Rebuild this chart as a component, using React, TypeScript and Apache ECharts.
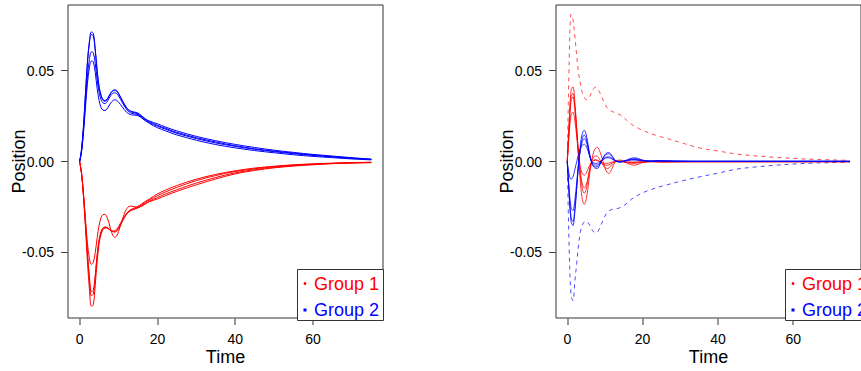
import React, { useEffect, useRef } from "react";
import * as echarts from "echarts";

// ---------- Left panel ----------
const timeLeft = [
  0, 0.5, 1, 1.5, 2, 2.5, 3, 3.5, 4, 4.5,
  5, 5.5, 6, 6.5, 7, 7.5, 8, 8.5, 9, 9.5,
  10, 11, 12, 13, 14, 15, 16, 17, 18,
  20, 22, 25, 30, 35, 40, 45, 50, 55, 60, 65, 70, 75,
];

const leftBlue1 = [
  0, 0.007, 0.020, 0.038, 0.055, 0.066, 0.0712, 0.0705, 0.062, 0.050,
  0.041, 0.0365, 0.034, 0.0335, 0.0342, 0.036, 0.0378, 0.039, 0.0395, 0.039,
  0.0375, 0.0335, 0.0298, 0.0278, 0.0272, 0.0266, 0.025, 0.0233, 0.0222,
  0.0207, 0.019, 0.0168, 0.0138, 0.0114, 0.0094, 0.0077, 0.0062, 0.005, 0.0039, 0.003, 0.0021, 0.0013,
];
const leftBlue2 = [
  0, 0.007, 0.0195, 0.037, 0.054, 0.065, 0.0697, 0.069, 0.061, 0.0495,
  0.0408, 0.0362, 0.0337, 0.0331, 0.0338, 0.0356, 0.0374, 0.0386, 0.039, 0.0386,
  0.0372, 0.0332, 0.0295, 0.0275, 0.0268, 0.0262, 0.0246, 0.023, 0.0218,
  0.0199, 0.0183, 0.016, 0.0131, 0.0107, 0.0087, 0.007, 0.0057, 0.0046, 0.0036, 0.0027, 0.0019, 0.0012,
];
const leftBlue3 = [
  0, 0.006, 0.018, 0.033, 0.047, 0.056, 0.0602, 0.0598, 0.054, 0.045,
  0.038, 0.034, 0.0322, 0.0318, 0.0327, 0.0345, 0.0362, 0.0374, 0.0378, 0.0374,
  0.036, 0.0323, 0.0288, 0.0268, 0.0262, 0.0257, 0.0242, 0.0226, 0.0213,
  0.0194, 0.0178, 0.0155, 0.0126, 0.0102, 0.0083, 0.0067, 0.0054, 0.0043, 0.0033, 0.0025, 0.0017, 0.0011,
];
const leftBlue4 = [
  0, 0.0055, 0.016, 0.030, 0.043, 0.0515, 0.0552, 0.0548, 0.049, 0.040,
  0.0335, 0.0297, 0.0282, 0.028, 0.0288, 0.0305, 0.0322, 0.0334, 0.0339, 0.0336,
  0.0326, 0.0299, 0.0272, 0.0258, 0.0255, 0.0252, 0.0238, 0.0222, 0.0208,
  0.0186, 0.0169, 0.0146, 0.0117, 0.0093, 0.0075, 0.006, 0.0048, 0.0037, 0.0028, 0.0021, 0.0014, 0.0009,
];
const leftRed1 = [
  0, -0.007, -0.020, -0.037, -0.055, -0.070, -0.0795, -0.0788, -0.068, -0.055,
  -0.045, -0.040, -0.0375, -0.0366, -0.0365, -0.0372, -0.038, -0.0386, -0.0388, -0.0384,
  -0.037, -0.0328, -0.0292, -0.0272, -0.0262, -0.0252, -0.0238, -0.0222, -0.021,
  -0.0188, -0.0168, -0.0142, -0.0105, -0.0077, -0.0055, -0.004, -0.0028, -0.002, -0.0014, -0.001, -0.0007, -0.0005,
];
const leftRed2 = [
  0, -0.007, -0.019, -0.034, -0.051, -0.065, -0.0738, -0.073, -0.064, -0.052,
  -0.0435, -0.039, -0.0368, -0.0362, -0.0363, -0.0371, -0.0379, -0.0384, -0.0384, -0.0378,
  -0.0365, -0.0325, -0.0288, -0.0266, -0.0256, -0.0246, -0.0232, -0.0218, -0.0205,
  -0.0178, -0.0158, -0.0132, -0.0097, -0.0071, -0.0051, -0.0036, -0.0026, -0.0018, -0.0013, -0.0009, -0.0006, -0.0004,
];
const leftRed3 = [
  0, -0.007, -0.019, -0.034, -0.05, -0.063, -0.0715, -0.0708, -0.0625, -0.051,
  -0.0428, -0.0385, -0.0365, -0.036, -0.0362, -0.037, -0.0378, -0.0382, -0.038, -0.0372,
  -0.0358, -0.032, -0.0287, -0.0268, -0.0262, -0.0255, -0.0243, -0.0229, -0.0217,
  -0.0198, -0.0179, -0.0155, -0.0118, -0.0088, -0.0062, -0.0045, -0.0032, -0.0023, -0.0016, -0.0011, -0.0008, -0.0006,
];
const leftRed4 = [
  0, -0.0065, -0.018, -0.032, -0.045, -0.053, -0.0565, -0.0555, -0.05, -0.042,
  -0.035, -0.0308, -0.0292, -0.029, -0.0305, -0.0335, -0.0375, -0.0405, -0.0416, -0.041,
  -0.0385, -0.0318, -0.0263, -0.0245, -0.0248, -0.0252, -0.0245, -0.0232, -0.022,
  -0.0206, -0.0188, -0.0164, -0.0128, -0.0096, -0.0068, -0.0049, -0.0035, -0.0025, -0.0018, -0.0012, -0.0008, -0.0006,
];

// ---------- Right panel ----------
const timeRight = [
  0, 0.5, 1, 1.5, 2, 2.5, 3, 3.5, 4, 4.5,
  5, 5.5, 6, 6.5, 7, 7.5, 8, 8.5, 9, 9.5,
  10, 10.5, 11, 11.5, 12, 12.5, 13,
  14, 15, 16, 17, 18, 19, 20,
  22, 24, 26,
  30, 35, 40, 45, 50, 55, 60, 65, 70, 75,
];

const rightRedEnvelope = [
  0, 0.055, 0.081, 0.078, 0.069, 0.058, 0.0488, 0.0425, 0.0378, 0.0352,
  0.034, 0.0342, 0.0358, 0.0382, 0.0401, 0.0408, 0.0402, 0.0385, 0.0362, 0.0338,
  0.0316, 0.0298, 0.0286, 0.0279, 0.0274, 0.027, 0.0266,
  0.0257, 0.0241, 0.0222, 0.0205, 0.0192, 0.0181, 0.0171,
  0.0155, 0.0141, 0.0129,
  0.0105, 0.0075, 0.0058, 0.0041, 0.0031, 0.0023, 0.0017, 0.0012, 0.0009, 0.0006,
];
const rightBlueEnvelope = [
  0, -0.048, -0.0735, -0.0765, -0.066, -0.056, -0.0455, -0.0385, -0.0348, -0.0332,
  -0.0327, -0.0335, -0.0352, -0.0372, -0.0387, -0.0393, -0.0388, -0.0372, -0.0348, -0.0322,
  -0.03, -0.0283, -0.0272, -0.0266, -0.0263, -0.0261, -0.026,
  -0.0254, -0.0243, -0.0226, -0.0208, -0.0194, -0.0182, -0.0172,
  -0.0156, -0.0142, -0.0131,
  -0.0109, -0.0085, -0.0064, -0.0042, -0.003, -0.0021, -0.0014, -0.0009, -0.0006, -0.0003,
];
const rightRed1 = [
  0, 0.022, 0.039, 0.041, 0.033, 0.018, 0.002, -0.012, -0.021, -0.0235,
  -0.021, -0.0145, -0.006, 0.0008, 0.0052, 0.0073, 0.0077, 0.0062, 0.0035, 0,
  -0.0035, -0.0058, -0.0066, -0.0055, -0.0032, -0.001, 0.0004,
  0.0008, 0.0002, -0.001, -0.0018, -0.002, -0.0014, -0.0006,
  0.0001, -0.0002, -0.0003,
  -0.0002, -0.0001, -0.0001, -0.0001, -0.0001, -0.0001, -0.0001, -0.0001, -0.0001, -0.0001,
];
const rightRed2 = [
  0, 0.02, 0.0355, 0.0375, 0.03, 0.017, 0.003, -0.008, -0.015, -0.0175,
  -0.0155, -0.01, -0.004, 0.0005, 0.0025, 0.003, 0.0028, 0.0015, -0.0003, -0.002,
  -0.0033, -0.0038, -0.0036, -0.0026, -0.0014, -0.0004, 0.0002,
  0.0003, -0.0002, -0.0007, -0.001, -0.001, -0.0007, -0.0004,
  -0.0001, -0.0002, -0.0002,
  -0.0001, -0.0001, -0.0001, -0.0001, -0.0001, -0.0001, -0.0001, -0.0001, -0.0001, -0.0001,
];
const rightRed3 = [
  0, 0.019, 0.0335, 0.0355, 0.029, 0.017, 0.004, -0.0065, -0.0125, -0.0145,
  -0.013, -0.0088, -0.0038, -0.0005, 0.0008, 0.001, 0.0008, 0.0001, -0.0008, -0.0015,
  -0.002, -0.0021, -0.0019, -0.0013, -0.0007, -0.0002, 0,
  0, -0.0003, -0.0005, -0.0006, -0.0005, -0.0003, -0.0002,
  -0.0001, -0.0001, -0.0001,
  -0.0001, -0.0001, -0.0001, -0.0001, -0.0001, -0.0001, -0.0001, -0.0001, -0.0001, -0.0001,
];
const rightRed4 = [
  0, 0.015, 0.0255, 0.0272, 0.0225, 0.0135, 0.004, -0.0035, -0.0068, -0.0075,
  -0.0065, -0.0042, -0.0018, -0.0002, 0.0005, 0.0006, 0.0004, 0, -0.0004, -0.0008,
  -0.001, -0.001, -0.0009, -0.0006, -0.0003, -0.0001, 0,
  0, -0.0001, -0.0002, -0.0003, -0.0003, -0.0002, -0.0001,
  -0.0001, -0.0001, -0.0001,
  -0.0001, -0.0001, -0.0001, -0.0001, -0.0001, -0.0001, -0.0001, -0.0001, -0.0001, -0.0001,
];
const rightBlue1 = [
  0, -0.019, -0.033, -0.0352, -0.028, -0.015, -0.001, 0.0095, 0.0155, 0.0172,
  0.015, 0.0095, 0.0035, -0.0008, -0.003, -0.0037, -0.0038, -0.0025, -0.0002, 0.002,
  0.0038, 0.0047, 0.0049, 0.0042, 0.0028, 0.0012, 0.0001,
  -0.0004, 0.0001, 0.001, 0.0018, 0.002, 0.0015, 0.0008,
  0.0002, 0.0005, 0.0004,
  0.0002, 0.0001, 0.0001, 0.0001, 0.0001, 0.0001, 0.0001, 0.0001, 0.0001, 0.0001,
];
const rightBlue2 = [
  0, -0.018, -0.031, -0.033, -0.026, -0.014, -0.0015, 0.0075, 0.0128, 0.0145,
  0.0128, 0.0082, 0.003, -0.0006, -0.0024, -0.003, -0.003, -0.0019, 0, 0.0018,
  0.0033, 0.004, 0.0042, 0.0036, 0.0024, 0.001, 0.0002,
  -0.0002, 0.0002, 0.0008, 0.0013, 0.0015, 0.0011, 0.0006,
  0.0002, 0.0004, 0.0003,
  0.0002, 0.0001, 0.0001, 0.0001, 0.0001, 0.0001, 0.0001, 0.0001, 0.0001, 0.0001,
];
const rightBlue3 = [
  0, -0.015, -0.0255, -0.027, -0.0215, -0.0115, -0.001, 0.0065, 0.011, 0.0126,
  0.0112, 0.0073, 0.0028, -0.0002, -0.0015, -0.002, -0.002, -0.0012, 0.0001, 0.0012,
  0.0021, 0.0025, 0.0026, 0.0022, 0.0015, 0.0007, 0.0002,
  -0.0001, 0.0002, 0.0006, 0.001, 0.0011, 0.0008, 0.0005,
  0.0002, 0.0003, 0.0002,
  0.0001, 0.0001, 0.0001, 0.0001, 0.0001, 0.0001, 0.0001, 0.0001, 0.0001, 0.0001,
];
const rightBlue4 = [
  0, -0.0075, -0.0098, -0.0085, -0.0045, 0, 0.004, 0.0072, 0.009, 0.0095,
  0.0085, 0.0058, 0.0025, 0, -0.0008, -0.001, -0.001, -0.0005, 0.0003, 0.001,
  0.0017, 0.002, 0.002, 0.0017, 0.0012, 0.0006, 0.0002,
  0, 0.0002, 0.0005, 0.0008, 0.0008, 0.0006, 0.0004,
  0.0002, 0.0002, 0.0002,
  0.0001, 0.0001, 0.0001, 0.0001, 0.0001, 0.0001, 0.0001, 0.0001, 0.0001, 0.0001,
];

const xTicks = [0, 20, 40, 60];
const yTicks = [-0.05, 0, 0.05];
const legendLabels = ["Group 1", "Group 2"];

const RED = "#ff0000";
const BLUE = "#0000ff";
const FONT = "Liberation Sans";

function pairs(t: number[], v: number[]) {
  return t.map((x, i) => [x, v[i]]);
}

function lineSeries(
  name: string,
  t: number[],
  v: number[],
  color: string,
  idx: number,
  opacity = 1,
  dashed = false
) {
  return {
    type: "line",
    name,
    xAxisIndex: idx,
    yAxisIndex: idx,
    data: pairs(t, v),
    smooth: 0.35,
    showSymbol: false,
    symbol: "none",
    silent: true,
    lineStyle: {
      color,
      width: 1,
      opacity,
      type: dashed ? [4, 4] : "solid",
    },
  };
}

function makeXAxis(gridIndex: number) {
  return {
    type: "value",
    gridIndex,
    position: "bottom",
    min: -3,
    max: 78,
    axisLine: { show: false, onZero: false },
    splitLine: { show: false },
    axisTick: {
      show: true,
      length: 7,
      customValues: xTicks,
      lineStyle: { color: "#777", width: 1.5 },
    },
    axisLabel: {
      customValues: xTicks,
      color: "#000",
      fontSize: 14,
      fontFamily: FONT,
      margin: 14,
    },
    name: "Time",
    nameLocation: "middle",
    nameGap: 30,
    nameMoveOverlap: false,
    nameTextStyle: { color: "#000", fontSize: 18, fontFamily: FONT },
  };
}

function makeYAxis(gridIndex: number) {
  return {
    type: "value",
    gridIndex,
    position: "left",
    min: -0.086,
    max: 0.086,
    axisLine: { show: false, onZero: false },
    splitLine: { show: false },
    axisTick: {
      show: true,
      length: 7,
      customValues: yTicks,
      lineStyle: { color: "#444", width: 1 },
    },
    axisLabel: {
      customValues: yTicks,
      color: "#000",
      fontSize: 14,
      fontFamily: FONT,
      margin: 14,
      formatter: (v: number) => v.toFixed(2),
    },
    name: "Position",
    nameLocation: "middle",
    nameRotate: 90,
    nameGap: 40,
    nameMoveOverlap: false,
    nameTextStyle: { color: "#000", fontSize: 18, fontFamily: FONT },
  };
}

function legendGraphics(left: number) {
  return [
    {
      type: "rect",
      z: 100,
      shape: { x: left + 0.5, y: 269.5, width: 86, height: 51 },
      style: { fill: "#fff", stroke: "#333", lineWidth: 1 },
    },
    {
      type: "circle",
      z: 101,
      shape: { cx: left + 8, cy: 283.5, r: 1.4 },
      style: { fill: RED },
    },
    {
      type: "text",
      z: 101,
      x: left + 17,
      y: 283.5,
      style: {
        text: legendLabels[0],
        fill: RED,
        fontSize: 18,
        fontFamily: FONT,
        verticalAlign: "middle",
      },
    },
    {
      type: "rect",
      z: 101,
      shape: { x: left + 6.5, y: 308.5, width: 3, height: 3 },
      style: { fill: BLUE },
    },
    {
      type: "text",
      z: 101,
      x: left + 17,
      y: 310,
      style: {
        text: legendLabels[1],
        fill: BLUE,
        fontSize: 18,
        fontFamily: FONT,
        verticalAlign: "middle",
      },
    },
  ];
}

export default function App() {
  const ref = useRef<HTMLDivElement>(null);

  useEffect(() => {
    if (!ref.current) return;
    const chart = echarts.init(ref.current, null, { renderer: "svg" });

    const series = [
      lineSeries("Group 1", timeLeft, leftRed1, RED, 0),
      lineSeries("Group 1", timeLeft, leftRed2, RED, 0),
      lineSeries("Group 1", timeLeft, leftRed3, RED, 0),
      lineSeries("Group 1", timeLeft, leftRed4, RED, 0),
      lineSeries("Group 2", timeLeft, leftBlue1, BLUE, 0),
      lineSeries("Group 2", timeLeft, leftBlue2, BLUE, 0),
      lineSeries("Group 2", timeLeft, leftBlue3, BLUE, 0),
      lineSeries("Group 2", timeLeft, leftBlue4, BLUE, 0),

      lineSeries("Group 1", timeRight, rightRedEnvelope, RED, 1, 0.7, true),
      lineSeries("Group 2", timeRight, rightBlueEnvelope, BLUE, 1, 0.7, true),
      lineSeries("Group 1", timeRight, rightRed1, RED, 1, 0.8),
      lineSeries("Group 1", timeRight, rightRed2, RED, 1, 0.8),
      lineSeries("Group 1", timeRight, rightRed3, RED, 1, 0.8),
      lineSeries("Group 1", timeRight, rightRed4, RED, 1, 0.8),
      lineSeries("Group 2", timeRight, rightBlue1, BLUE, 1, 0.8),
      lineSeries("Group 2", timeRight, rightBlue2, BLUE, 1, 0.8),
      lineSeries("Group 2", timeRight, rightBlue3, BLUE, 1, 0.8),
      lineSeries("Group 2", timeRight, rightBlue4, BLUE, 1, 0.8),
    ];

    chart.setOption({
      animation: false,
      backgroundColor: "#fff",
      textStyle: { fontFamily: FONT },
      grid: [
        {
          left: 68,
          top: 5,
          width: 315,
          height: 315,
          show: true,
          borderColor: "#333",
          borderWidth: 1,
          backgroundColor: "transparent",
        },
        {
          left: 556,
          top: 5,
          width: 314,
          height: 315,
          show: true,
          borderColor: "#333",
          borderWidth: 1,
          backgroundColor: "transparent",
        },
      ],
      xAxis: [makeXAxis(0), makeXAxis(1)],
      yAxis: [makeYAxis(0), makeYAxis(1)],
      series,
      graphic: [...legendGraphics(297), ...legendGraphics(785)],
    });

    return () => chart.dispose();
  }, []);

  return (
    <div
      ref={ref}
      style={{
        position: "fixed",
        left: 0,
        top: 0,
        width: 861,
        height: 371,
        background: "#fff",
      }}
    />
  );
}
